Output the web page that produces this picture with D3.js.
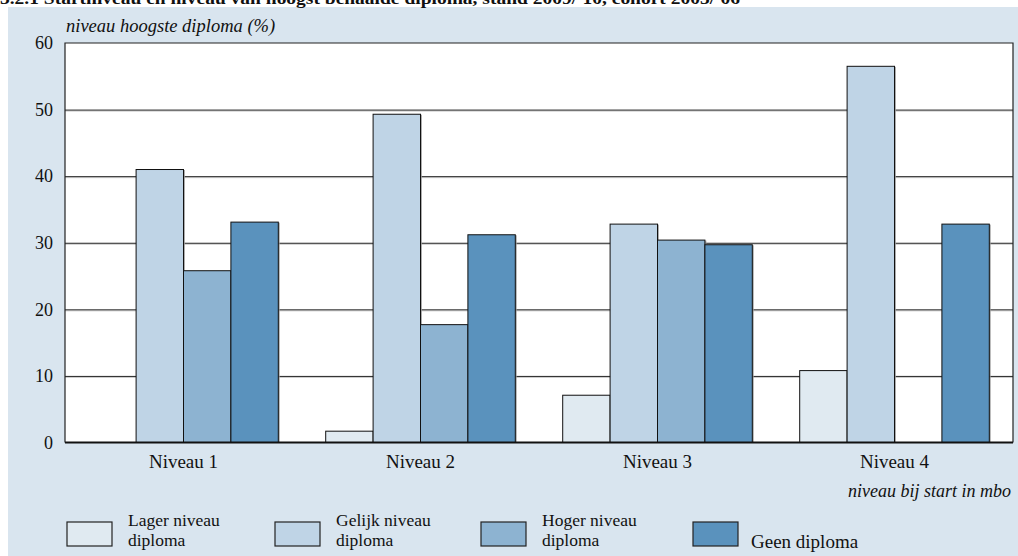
<!DOCTYPE html>
<html><head><meta charset="utf-8">
<script src="https://cdn.jsdelivr.net/npm/d3@7"></script>
<style>
html,body{margin:0;padding:0;background:#fff;}
svg{display:block;}
text{font-family:"Liberation Serif","Times New Roman",serif;fill:#111;}
</style></head>
<body>
<svg id="chart" width="1018" height="556"></svg>
<script>
const title = "3.2.1 Startniveau en niveau van hoogst behaalde diploma, stand 2009/'10, cohort 2005/'06";
const yTitle = "niveau hoogste diploma (%)";
const xTitle = "niveau bij start in mbo";
const categories = ["Niveau 1", "Niveau 2", "Niveau 3", "Niveau 4"];
const seriesNames = [["Lager niveau","diploma"],["Gelijk niveau","diploma"],["Hoger niveau","diploma"],["Geen diploma"]];
const seriesKeys = ["lager","gelijk","hoger","geen"];
const lager  = [0, 1.7, 7.1, 10.8];
const gelijk = [41.0, 49.3, 32.8, 56.5];
const hoger  = [25.8, 17.7, 30.4, 0];
const geen   = [33.1, 31.2, 29.7, 32.8];
const yTicks = [0, 10, 20, 30, 40, 50, 60];
const colors = ["#e0eaf1", "#bfd4e6", "#8db3d1", "#5a92bd"];

const svg = d3.select("#chart");
const M = {left: 65, right: 1013, top: 43, bottom: 442.5};

// background panel
svg.append("rect").attr("x", 8).attr("y", 7).attr("width", 1010).attr("height", 549).attr("fill", "#d9e5ef");
// title (top partially cut, as in the reference)
svg.append("text").attr("x", 0).attr("y", 4).attr("font-weight", "bold").attr("font-size", 17)
  .attr("textLength", 740).attr("lengthAdjust", "spacingAndGlyphs").text(title);

// plot area
svg.append("rect").attr("x", M.left).attr("y", M.top).attr("width", M.right - M.left).attr("height", M.bottom - M.top).attr("fill", "#fff");

const x0 = d3.scaleBand().domain(categories).range([M.left, M.right]).padding(0);
const x1 = d3.scaleBand().domain(seriesKeys).range([0, x0.bandwidth()]).paddingInner(0).paddingOuter(0.5);
const y = d3.scaleLinear().domain([0, 60]).range([M.bottom, M.top]);

// gridlines with light shadow
const g = svg.append("g");
yTicks.filter(t => t > 0 && t < 60).forEach(t => {
  g.append("line").attr("x1", M.left).attr("x2", M.right).attr("y1", y(t) + 1.5).attr("y2", y(t) + 1.5).attr("stroke", "#c8c8c8").attr("stroke-width", 1);
  g.append("line").attr("x1", M.left).attr("x2", M.right).attr("y1", y(t) + 0.5).attr("y2", y(t) + 0.5).attr("stroke", "#222").attr("stroke-width", 1);
});

// bars
const data = categories.map((c, i) => ({cat: c, vals: [lager[i], gelijk[i], hoger[i], geen[i]]}));
const groups = svg.append("g").selectAll("g").data(data).join("g")
  .attr("transform", d => `translate(${x0(d.cat)},0)`);
groups.selectAll("rect.sh").data(d => d.vals.map((v, j) => ({v, k: seriesKeys[j], j}))).join("rect")
  .attr("class", "sh")
  .attr("x", d => x1(d.k) + 1.5).attr("y", d => y(d.v) + 0.5)
  .attr("width", x1.bandwidth()).attr("height", d => Math.max(0, M.bottom - y(d.v)))
  .attr("fill", "#999").attr("opacity", d => d.v > 0 ? 0.8 : 0);
groups.selectAll("rect.bar").data(d => d.vals.map((v, j) => ({v, k: seriesKeys[j], j}))).join("rect")
  .attr("class", "bar")
  .attr("x", d => x1(d.k)).attr("y", d => y(d.v))
  .attr("width", x1.bandwidth()).attr("height", d => Math.max(0, M.bottom - y(d.v)))
  .attr("fill", d => colors[d.j]).attr("stroke", "#111").attr("stroke-width", 1)
  .attr("opacity", d => d.v > 0 ? 1 : 0);

// frame
svg.append("path").attr("d", `M${M.left},${M.bottom}V${M.top}H${M.right}V${M.bottom}`)
  .attr("fill", "none").attr("stroke", "#222").attr("stroke-width", 1.2);
svg.append("line").attr("x1", M.left).attr("x2", M.right).attr("y1", M.bottom).attr("y2", M.bottom)
  .attr("stroke", "#111").attr("stroke-width", 2);

// y axis labels
const yAxis = d3.axisLeft(y).tickValues(yTicks).tickSize(0).tickPadding(12);
const ya = svg.append("g").attr("transform", `translate(${M.left},0)`).call(yAxis);
ya.select(".domain").remove();
ya.selectAll("text").attr("font-size", 18).attr("font-family", "Liberation Serif").attr("fill", "#111");

// x axis labels
const xAxis = d3.axisBottom(x0).tickSize(0).tickPadding(12);
const xa = svg.append("g").attr("transform", `translate(0,${M.bottom})`).call(xAxis);
xa.select(".domain").remove();
xa.selectAll("text").attr("font-size", 19).attr("font-family", "Liberation Serif").attr("fill", "#111");

// axis titles
svg.append("text").attr("x", 66).attr("y", 32).attr("font-style", "italic").attr("font-size", 18.5).text(yTitle);
svg.append("text").attr("x", 1011).attr("y", 497).attr("text-anchor", "end").attr("font-style", "italic").attr("font-size", 18).text(xTitle);

// legend
const legX = [67, 275, 481, 693];
seriesNames.forEach((lines, i) => {
  const lg = svg.append("g").attr("transform", `translate(${legX[i]},522)`);
  lg.append("rect").attr("x", 0).attr("y", 0).attr("width", 45).attr("height", 24)
    .attr("fill", colors[i]).attr("stroke", "#222").attr("stroke-width", 1.2);
  if (lines.length === 2) {
    lg.append("text").attr("x", 61).attr("y", 4).attr("font-size", 17.5).text(lines[0]);
    lg.append("text").attr("x", 61).attr("y", 24).attr("font-size", 17.5).text(lines[1]);
  } else {
    lg.append("text").attr("x", 58).attr("y", 26).attr("font-size", 19).text(lines[0]);
  }
});
</script>
</body></html>
